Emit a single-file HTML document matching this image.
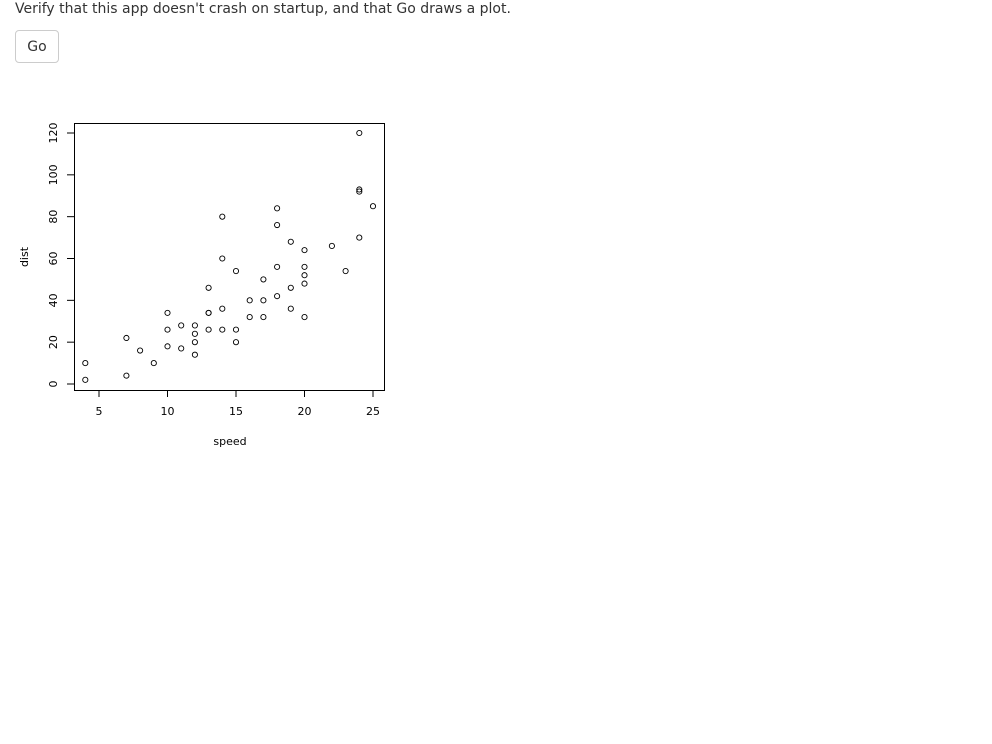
<!DOCTYPE html>
<html><head><meta charset="utf-8">
<style>
body{margin:0;width:992px;height:744px;background:#fff;font-family:"DejaVu Sans","Liberation Sans",sans-serif;color:#333;position:relative;overflow:hidden}
#msg{position:absolute;left:15px;top:0px;font-size:14px;line-height:18px}
#go{position:absolute;left:15px;top:30px;width:44px;height:33px;border:1px solid #ccc;border-radius:4px;background:#fff;font-size:14px;color:#333;font-family:inherit;padding:0}
svg{position:absolute;left:0;top:0}
</style></head><body>
<div id="msg">Verify that this app doesn't crash on startup, and that Go draws a plot.</div>
<button id="go">Go</button>
<svg id="chart" width="992" height="744" font-family="DejaVu Sans, Liberation Sans, sans-serif" font-size="11"></svg>
<script>
const speed=[4,4,7,7,8,9,10,10,10,11,11,12,12,12,12,13,13,13,13,14,14,14,14,15,15,15,16,16,17,17,17,18,18,18,18,19,19,19,20,20,20,20,20,22,23,24,24,24,24,25];
const dist=[2,10,4,22,16,10,18,26,34,17,28,14,20,24,28,26,34,34,46,26,36,60,80,20,26,54,32,40,32,40,50,42,56,76,84,36,46,68,32,48,52,56,64,66,54,70,92,93,120,85];
const xTicks=[5,10,15,20,25];
const yTicks=[0,20,40,60,80,100,120];
const NS="http://www.w3.org/2000/svg";
const svg=document.getElementById('chart');
const X=v=>99+(v-5)*(373-99)/20;
const Y=v=>384-v*(384-133)/120;
function el(t,a){const e=document.createElementNS(NS,t);for(const k in a)e.setAttribute(k,a[k]);svg.appendChild(e);return e;}
const box=el('rect',{x:74.5,y:123.5,width:310,height:267,fill:'none',stroke:'#000'});


xTicks.forEach(v=>{
  const l=el('line',{x1:X(v),x2:X(v),y1:390,y2:397,stroke:'#000'});
  
  
  const t=el('text',{x:X(v),y:415,'text-anchor':'middle',fill:'#000'});t.textContent=v;
  
  
});
yTicks.forEach(v=>{
  const l=el('line',{x1:67,x2:74,y1:Y(v),y2:Y(v),stroke:'#000'});
  
  
  const t=el('text',{x:57,y:Y(v),'text-anchor':'middle',fill:'#000',transform:`rotate(-90 57 ${Y(v)})`});t.textContent=v;
  
  
});
const xt=el('text',{x:230,y:445,'text-anchor':'middle',fill:'#000'});xt.textContent='speed';


const yt=el('text',{x:28,y:257,'text-anchor':'middle',fill:'#000',transform:'rotate(-90 28 257)'});yt.textContent='dist';


speed.forEach((s,i)=>{
  const c=el('circle',{cx:X(s),cy:Y(dist[i]),r:2.6,fill:'none',stroke:'#000','stroke-width':0.9});
  
  
});
</script>
</body></html>
